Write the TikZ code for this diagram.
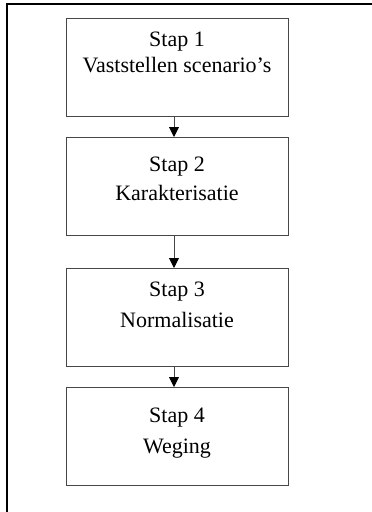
\documentclass[tikz,border=0pt]{standalone}
\usepackage{fontspec}
\setmainfont{Liberation Serif}
\usetikzlibrary{arrows.meta}
\begin{document}
\begin{tikzpicture}[x=1pt,y=-1pt,
  stepbox/.style={draw=black!72, line width=0.9pt, minimum width=222pt,
    minimum height=98pt, inner sep=0pt, anchor=north},
  steptext/.style={anchor=base, inner sep=0pt, font=\fontsize{22}{27}\selectfont},
  flow/.style={draw=black!72, line width=0.9pt,
    -{Triangle[length=10pt,width=10pt,color=black]}},
  frameline/.style={line width=2pt, line cap=rect}]
\useasboundingbox (0,0) rectangle (372,512);

% page frame (only the top and left edges are visible)
\draw[frameline] (7,512) -- (7,3.8) -- (372,3.8);

% the four steps
\node[stepbox] (s1) at (177,18)  {};
\node[stepbox] (s2) at (177,137) {};
\node[stepbox] (s3) at (177,268) {};
\node[stepbox] (s4) at (177,387) {};

\node[steptext] (s1a) at (177,46)  {Stap 1};
\node[steptext] (s1b) at (177,72)  {Vaststellen scenario’s};
\node[steptext] (s2a) at (177,171) {Stap 2};
\node[steptext] (s2b) at (177,200) {Karakterisatie};
\node[steptext] (s3a) at (177,296) {Stap 3};
\node[steptext] (s3b) at (177,327) {Normalisatie};
\node[steptext] (s4a) at (177,422) {Stap 4};
\node[steptext] (s4b) at (177,453) {Weging};

% arrows between the steps
\draw[flow] ([xshift=-3pt]s1.south) -- ([xshift=-3pt]s2.north);
\draw[flow] ([xshift=-3pt]s2.south) -- ([xshift=-3pt]s3.north);
\draw[flow] ([xshift=-3pt]s3.south) -- ([xshift=-3pt]s4.north);
\end{tikzpicture}
\end{document}
